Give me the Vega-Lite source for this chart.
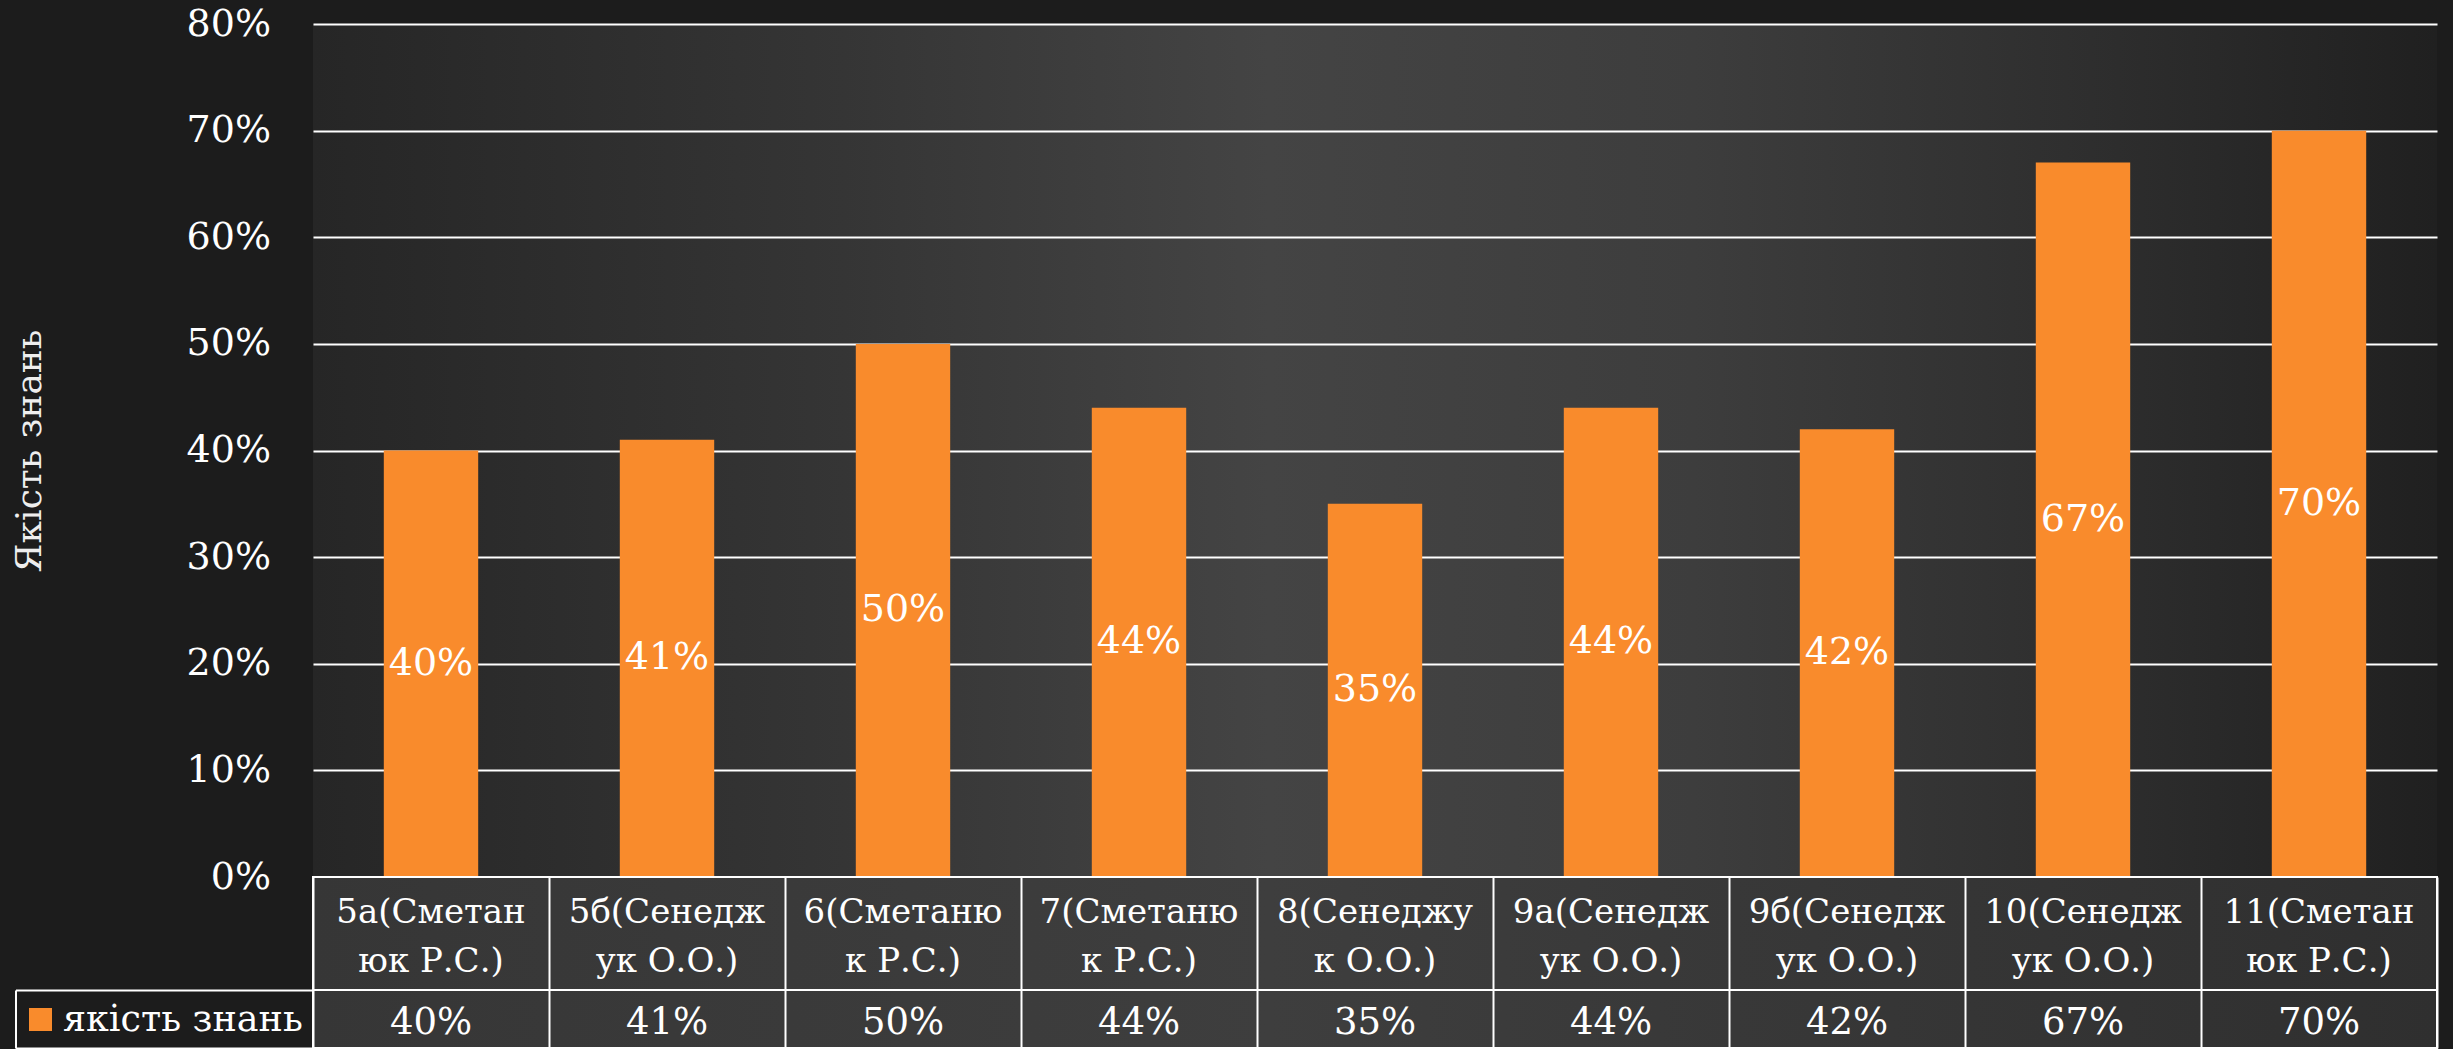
{
  "$schema": "https://vega.github.io/schema/vega-lite/v6.json",
  "background": "#1c1c1c",
  "padding": {"left": 11, "top": 5, "right": 15, "bottom": 0},
  "bounds": "flush",
  "spacing": 0,
  "config": {"view": {"stroke": null}},
  "data": {
    "values": [
      {"class": "5а(Сметан\nюк Р.С.)", "value": 0.40, "series": "якість знань"},
      {"class": "5б(Сенедж\nук О.О.)", "value": 0.41, "series": "якість знань"},
      {"class": "6(Сметаню\nк Р.С.)", "value": 0.50, "series": "якість знань"},
      {"class": "7(Сметаню\nк Р.С.)", "value": 0.44, "series": "якість знань"},
      {"class": "8(Сенеджу\nк О.О.)", "value": 0.35, "series": "якість знань"},
      {"class": "9а(Сенедж\nук О.О.)", "value": 0.44, "series": "якість знань"},
      {"class": "9б(Сенедж\nук О.О.)", "value": 0.42, "series": "якість знань"},
      {"class": "10(Сенедж\nук О.О.)", "value": 0.67, "series": "якість знань"},
      {"class": "11(Сметан\nюк Р.С.)", "value": 0.70, "series": "якість знань"}
    ]
  },
  "resolve": {"scale": {"x": "independent", "y": "independent"}},
  "vconcat": [
    {
      "width": 2124,
      "height": 853,
      "view": {
        "stroke": null,
        "fill": {
          "gradient": "linear", "x1": 0, "y1": 0, "x2": 1, "y2": 0,
          "stops": [
            {"offset": 0, "color": "#262626"},
            {"offset": 0.25, "color": "#353535"},
            {"offset": 0.45, "color": "#444444"},
            {"offset": 0.65, "color": "#3d3d3d"},
            {"offset": 0.85, "color": "#2d2d2d"},
            {"offset": 1, "color": "#202020"}
          ]
        }
      },
      "layer": [
        {
          "mark": {"type": "bar", "color": "#F98B2C"},
          "encoding": {
            "x": {"field": "class", "type": "nominal", "sort": null, "scale": {"paddingInner": 0.6, "paddingOuter": 0.3}, "axis": null},
            "y": {
              "field": "value", "type": "quantitative", "title": "Якість знань",
              "scale": {"domain": [0, 0.8]},
              "axis": {
                "values": [0, 0.1, 0.2, 0.3, 0.4, 0.5, 0.6, 0.7, 0.8],
                "format": ".0%",
                "grid": true, "gridColor": "#ffffff", "gridWidth": 2,
                "domain": false, "ticks": false,
                "labelPadding": 42.5, "labelFont": "DejaVu Serif", "labelFontSize": 38, "labelColor": "#ffffff",
                "titleFont": "DejaVu Serif", "titleFontSize": 36, "titleFontWeight": "normal", "titleColor": "#eeeeee",
                "titleX": -283.5, "titleY": 426.5, "titleAngle": -90, "titleAlign": "center", "titleBaseline": "middle"
              }
            }
          }
        },
        {
          "mark": {"type": "text", "color": "#ffffff", "font": "DejaVu Serif", "fontSize": 38, "baseline": "middle"},
          "encoding": {
            "x": {"field": "class", "type": "nominal", "sort": null},
            "y": {"field": "value", "type": "quantitative", "stack": "zero", "bandPosition": 0.5, "title": "Якість знань"},
            "text": {"field": "value", "type": "quantitative", "format": ".0%"}
          }
        }
      ]
    },
    {
      "width": 2124,
      "height": 113,
      "view": {
        "stroke": "#ffffff", "strokeWidth": 2,
        "fill": {
          "gradient": "linear", "x1": 0, "y1": 0, "x2": 1, "y2": 0,
          "stops": [
            {"offset": 0, "color": "#363636"},
            {"offset": 0.45, "color": "#3e3e3e"},
            {"offset": 1, "color": "#2f2f2f"}
          ]
        }
      },
      "mark": {"type": "text", "color": "#ffffff", "font": "DejaVu Serif", "fontSize": 34, "lineBreak": "\n", "lineHeight": 49, "baseline": "middle", "dy": -21},
      "encoding": {
        "x": {
          "field": "class", "type": "nominal", "sort": null,
          "scale": {"paddingInner": 0, "paddingOuter": 0},
          "axis": {"orient": "bottom", "labels": false, "ticks": false, "domain": false, "grid": true, "gridColor": "#ffffff", "gridWidth": 2, "tickBand": "extent", "title": null}
        },
        "text": {"field": "class", "type": "nominal"}
      }
    },
    {
      "width": 2124,
      "height": 58,
      "view": {
        "stroke": "#ffffff", "strokeWidth": 2,
        "fill": {
          "gradient": "linear", "x1": 0, "y1": 0, "x2": 1, "y2": 0,
          "stops": [
            {"offset": 0, "color": "#363636"},
            {"offset": 0.45, "color": "#3e3e3e"},
            {"offset": 1, "color": "#2f2f2f"}
          ]
        }
      },
      "resolve": {"axis": {"y": "independent"}, "scale": {"y": "independent"}},
      "layer": [
        {
          "mark": {"type": "text", "color": "#ffffff", "font": "DejaVu Serif", "fontSize": 37, "baseline": "middle", "dy": 4},
          "encoding": {
            "x": {
              "field": "class", "type": "nominal", "sort": null,
              "scale": {"paddingInner": 0, "paddingOuter": 0},
              "axis": {"orient": "bottom", "labels": false, "ticks": false, "domain": false, "grid": true, "gridColor": "#ffffff", "gridWidth": 2, "tickBand": "extent", "title": null}
            },
            "y": {
              "field": "series", "type": "nominal",
              "axis": {
                "orient": "left", "title": null, "domain": false, "grid": false,
                "ticks": true, "tickBand": "extent", "tickSize": 297.5, "tickColor": "#ffffff", "tickWidth": 2,
                "labelAlign": "left", "labelPadding": -47, "labelLimit": 0, "labelColor": "#ffffff",
                "labelFont": "DejaVu Serif", "labelFontSize": 36.5, "labelBaseline": "middle"
              }
            },
            "text": {"field": "value", "type": "quantitative", "format": ".0%"}
          }
        },
        {
          "mark": {"type": "text", "text": ""},
          "encoding": {
            "y": {
              "field": "series", "type": "nominal",
              "axis": {"orient": "left", "offset": 261.5, "title": null, "domain": false, "grid": false, "labels": false,
                "ticks": true, "tickSize": 23, "tickWidth": 23, "tickColor": "#F98B2C", "tickCap": "butt"}
            }
          }
        },
        {
          "mark": {"type": "text", "text": ""},
          "encoding": {
            "y": {
              "field": "series", "type": "nominal",
              "axis": {"orient": "left", "offset": 297.5, "title": null, "grid": false, "labels": false, "ticks": false,
                "domain": true, "domainColor": "#ffffff", "domainWidth": 2}
            }
          }
        }
      ]
    }
  ]
}
